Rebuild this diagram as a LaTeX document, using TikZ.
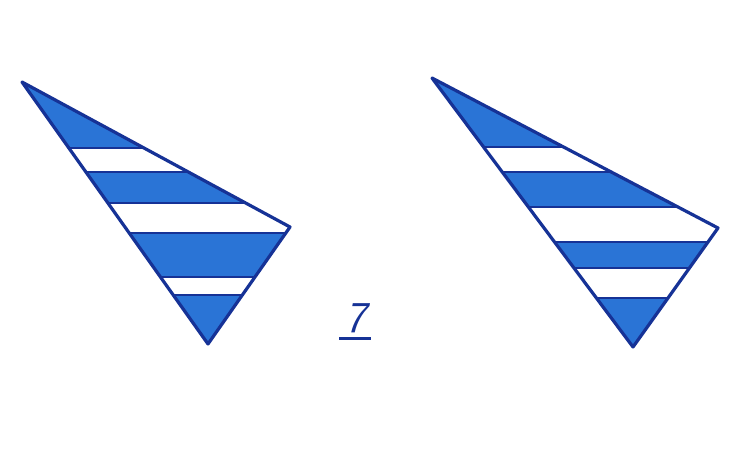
\documentclass[tikz,border=0pt]{standalone}
\begin{document}
\begin{tikzpicture}[x=1pt,y=-1pt,
  edge/.style={draw=darkblue,line width=3.2pt,line join=round},
  stripe/.style={draw=darkblue,line width=2.4pt}]
\definecolor{fillblue}{RGB}{42,116,214}
\definecolor{darkblue}{RGB}{22,50,150}
\useasboundingbox (0,0) rectangle (750,450);
\fill[white] (0,0) rectangle (750,450);
% left triangle
\begin{scope}
\clip (22,82)--(290,227)--(208,344)--cycle;
\fill[fillblue] (0,0) rectangle (750,450);
\foreach \a/\b in {148/172,203/233,277/295}{
  \fill[white] (0,\a) rectangle (750,\b);
  \draw[stripe] (0,\a)--(750,\a) (0,\b)--(750,\b);
}
\end{scope}
\draw[edge] (22,82)--(290,227)--(208,344)--cycle;
% right triangle
\begin{scope}
\clip (432,78)--(718,228)--(633,347)--cycle;
\fill[fillblue] (0,0) rectangle (750,450);
\foreach \a/\b in {147/172,207/242,268/298}{
  \fill[white] (0,\a) rectangle (750,\b);
  \draw[stripe] (0,\a)--(750,\a) (0,\b)--(750,\b);
}
\end{scope}
\draw[edge] (432,78)--(718,228)--(633,347)--cycle;
% label
\node[text=darkblue,inner sep=0pt,font=\fontsize{44}{44}\selectfont\sffamily\slshape] (lbl) at (356,318) {7};
\draw[darkblue,line width=3pt] ([xshift=-6pt,yshift=-6pt]lbl.south west) -- ([xshift=4pt,yshift=-6pt]lbl.south east);
\end{tikzpicture}
\end{document}
